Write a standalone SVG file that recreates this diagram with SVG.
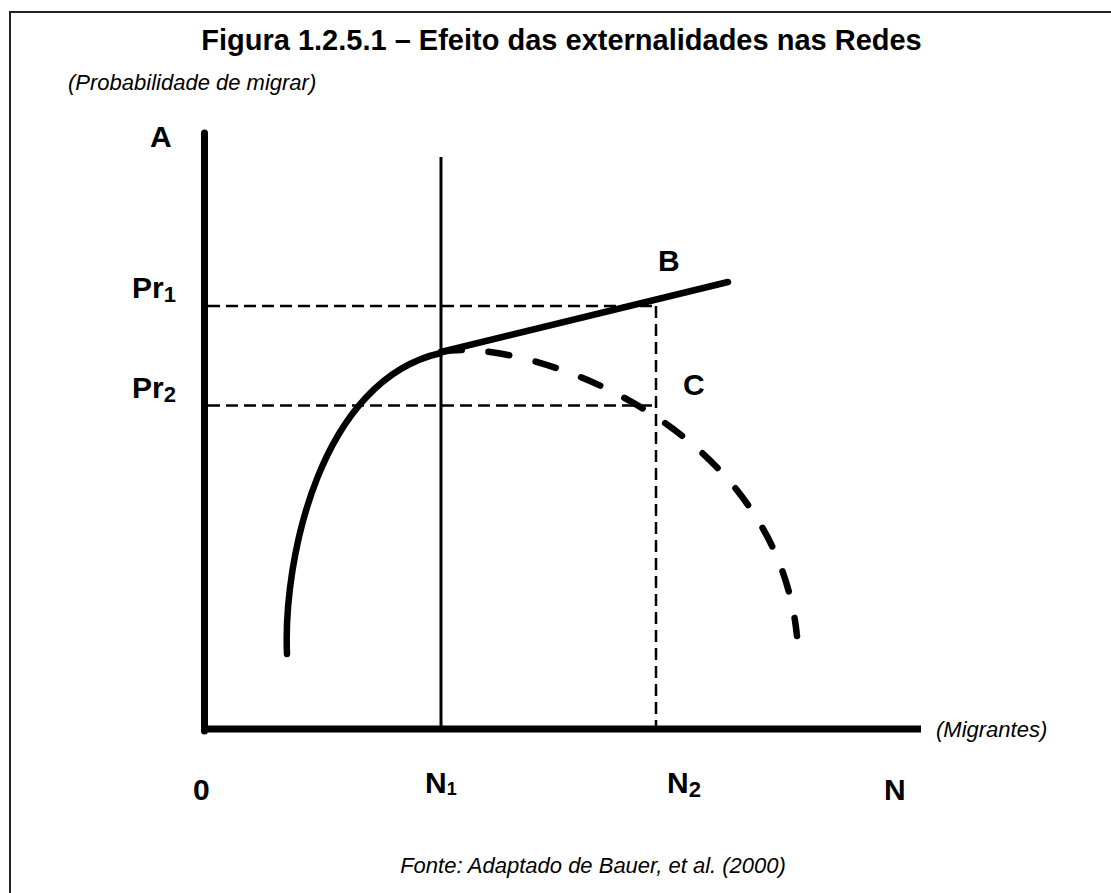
<svg xmlns="http://www.w3.org/2000/svg" width="1111" height="893" viewBox="0 0 1111 893">
<style>
.t{font-family:"Liberation Sans",Arial,sans-serif;fill:#000}
.b{font-weight:bold;font-size:30px}
.i{font-style:italic;font-size:22px}
.ax{stroke:#000;stroke-width:7;fill:none}
.gd{stroke:#000;stroke-width:2.5;stroke-dasharray:12 6;fill:none}
.cv{stroke:#000;stroke-width:6.5;fill:none;stroke-linecap:round}
</style>
<rect width="1111" height="893" fill="#fff"/>
<rect x="10" y="12" width="1120" height="900" fill="none" stroke="#222" stroke-width="2"/>
<g id="title">
<text class="t" x="561.5" y="50" font-size="29" font-weight="bold" text-anchor="middle">Figura 1.2.5.1 – Efeito das externalidades nas Redes</text>
</g>
<g id="ylabel"><text class="t i" x="68" y="90">(Probabilidade de migrar)</text></g>
<g id="connectors">
<line class="gd" x1="208" y1="306" x2="656" y2="306"/>
<line class="gd" x1="208" y1="405.5" x2="656" y2="405.5"/>
<line class="gd" x1="656" y1="306" x2="656" y2="729"/>
<line x1="441" y1="157" x2="441" y2="729" stroke="#000" stroke-width="3"/>
<line class="ax" x1="204.5" y1="133" x2="204.5" y2="731" stroke-linecap="round"/>
<line class="ax" x1="204" y1="729" x2="921" y2="729" stroke-width="8"/>
<path class="cv" d="M287,654 C283,560 320,380 441,353"/>
<line class="cv" x1="441" y1="352" x2="728" y2="282"/>
<path class="cv" d="M441,352 C520,336 775,420 797,636" stroke-dasharray="21 27"/>
</g>
<g id="A"><text class="t b" x="150" y="147">A</text></g>
<g id="Pr1"><text class="t b" x="132" y="298">Pr<tspan font-size="22" y="302">1</tspan></text></g>
<g id="Pr2"><text class="t b" x="132" y="398">Pr<tspan font-size="22" y="402">2</tspan></text></g>
<g id="B"><text class="t b" x="658" y="271">B</text></g>
<g id="C"><text class="t b" x="683" y="395">C</text></g>
<g id="O"><text class="t b" x="193" y="800">0</text></g>
<g id="N1"><text class="t b" x="425" y="793">N<tspan font-size="18" y="795">1</tspan></text></g>
<g id="N2"><text class="t b" x="667" y="793">N<tspan font-size="22" y="797">2</tspan></text></g>
<g id="N"><text class="t b" x="884" y="800">N</text></g>
<g id="xlabel"><text class="t i" x="936" y="737" font-size="23">(Migrantes)</text></g>
<g id="source"><text class="t i" x="593" y="873" text-anchor="middle">Fonte: Adaptado de Bauer, et al. (2000)</text></g>
</svg>
